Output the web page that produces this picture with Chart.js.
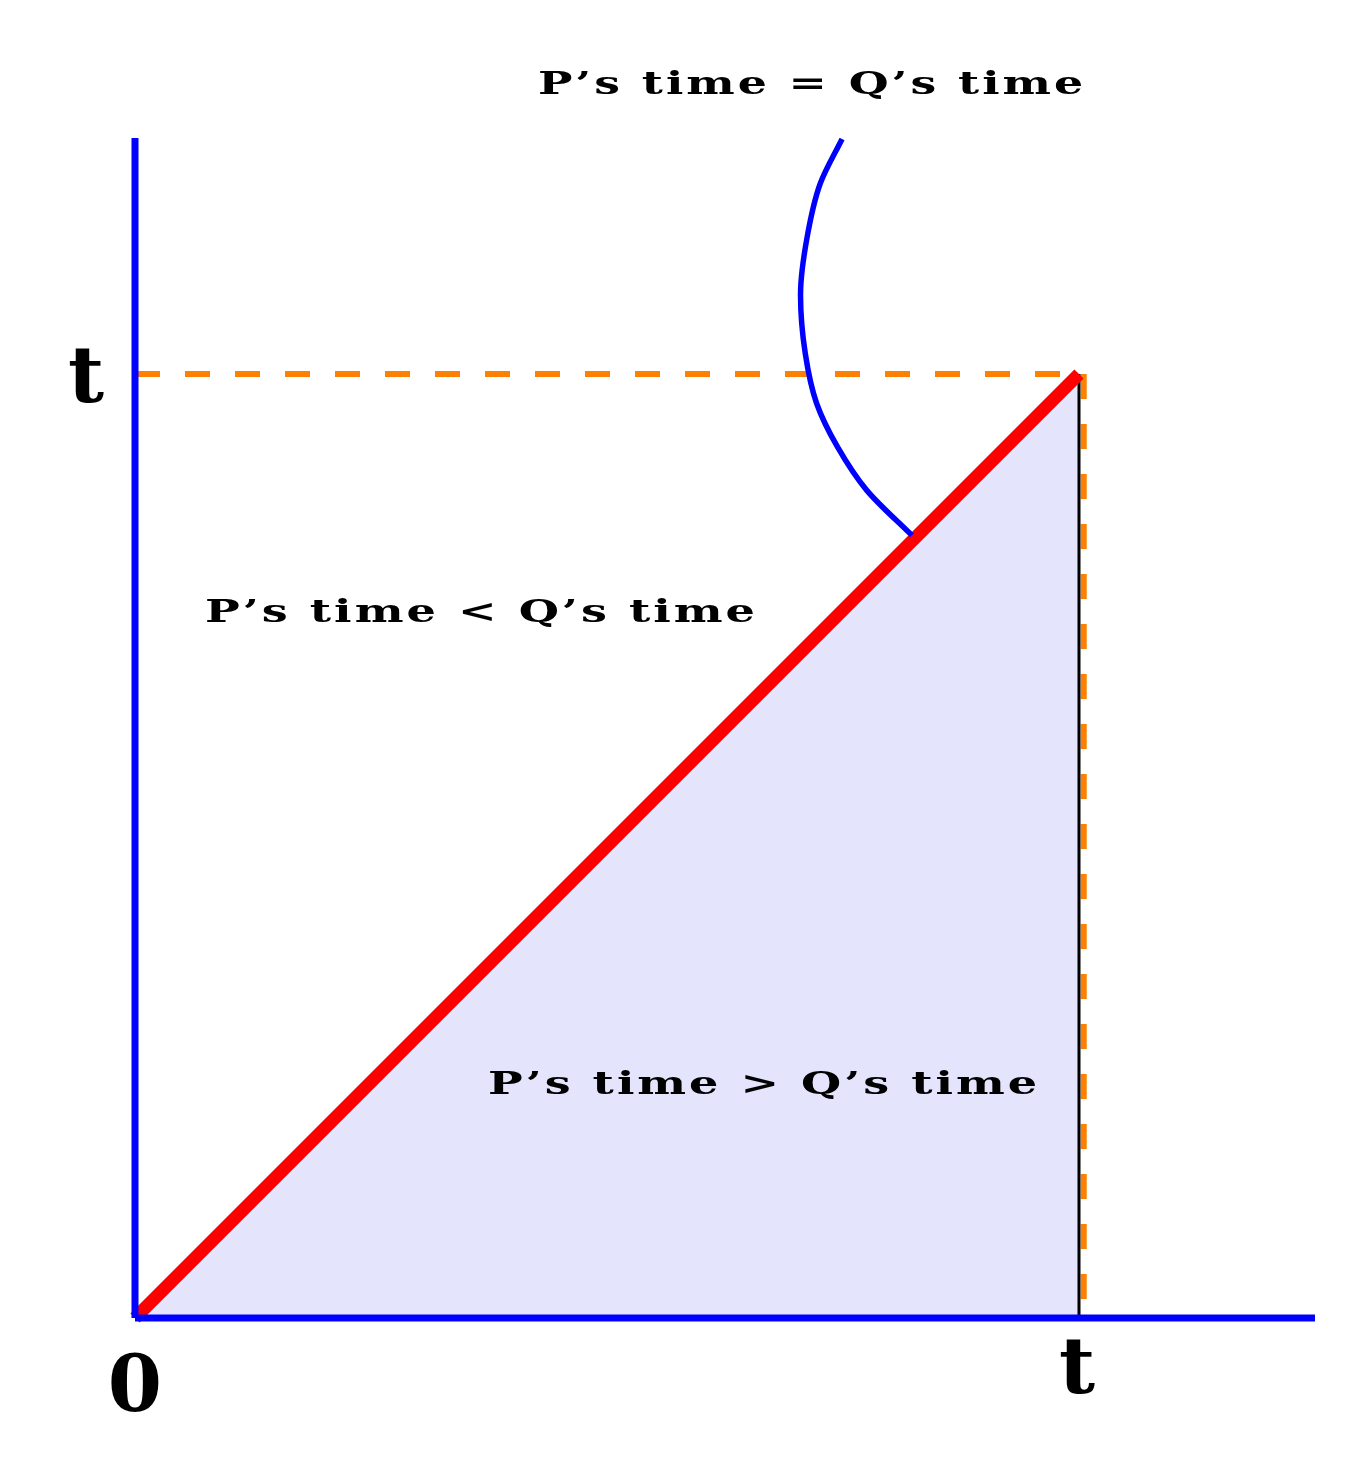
<!DOCTYPE html>
<html>
<head>
<meta charset="utf-8">
<script src="https://cdn.jsdelivr.net/npm/chart.js@4.4.1/dist/chart.umd.min.js"></script>
<style>
  body { margin: 0; background: #fff; }
  canvas { display: block; }
</style>
</head>
<body>
<canvas id="timeChart" width="1361" height="1480"></canvas>
<script>
// values (t = 1)
const axisMax = 1.25;
const diagonal = [[0, 0], [1, 1]];
const shadeTriangle = [[0, 0], [1, 1], [1, 0]];
const orangeTop = [[0, 1], [1, 1]];
const orangeSide = [[1.005, 1], [1.005, 0]];
const blackSide = [[1, 1], [1, 0]];
const yAxisLine = [[0, 0], [0, axisMax]];
const xAxisLine = [[0, 0], [axisMax, 0]];
// the curved pointer from the top label to the diagonal
const pointerCurve = [
    [0.749, 1.249], [0.726, 1.202], [0.712, 1.145], [0.705, 1.084],
    [0.710, 1.022], [0.722, 0.969], [0.744, 0.923], [0.775, 0.877], [0.823, 0.829]
];
const tickLabels = ['0', 't'];
const regionLabels = ["P\u2019s time = Q\u2019s time", "P\u2019s time < Q\u2019s time", "P\u2019s time > Q\u2019s time"];

const pts = arr => arr.map(([x, y]) => ({ x: x, y: y }));

// draw a text stretched to a given width (wide bold serif look)
function wideText(ctx, text, left, baseline, width) {
    ctx.save();
    ctx.letterSpacing = '2px';
    const w = ctx.measureText(text).width - 2;
    const sx = width / w;
    ctx.translate(left, baseline);
    ctx.scale(sx, 1);
    ctx.textAlign = 'left';
    ctx.fillText(text, 0, 0);
    ctx.restore();
}

const labelPlugin = {
    id: 'labels',
    afterDraw(chart) {
        const ctx = chart.ctx;
        const xs = chart.scales.x, ys = chart.scales.y;
        ctx.save();
        ctx.fillStyle = '#000';
        ctx.textBaseline = 'alphabetic';
        // tick labels
        ctx.font = 'bold 78px "DejaVu Serif"';
        ctx.textAlign = 'center';
        ctx.fillText(tickLabels[0], xs.getPixelForValue(0), ys.getPixelForValue(0) + 93);
        ctx.fillText(tickLabels[1], xs.getPixelForValue(1) - 2, ys.getPixelForValue(0) + 75);
        ctx.fillText(tickLabels[1], xs.getPixelForValue(0) - 49, ys.getPixelForValue(1) + 28);
        // region labels
        ctx.font = 'bold 31px "DejaVu Serif"';
        wideText(ctx, regionLabels[0], 538, 94, 545);
        wideText(ctx, regionLabels[1], 205, 622, 550);
        wideText(ctx, regionLabels[2], 488, 1094, 549);
        ctx.restore();
    }
};

function line(data, color, width, order, extra) {
    return Object.assign({
        data: pts(data),
        borderColor: color,
        borderWidth: width,
        pointRadius: 0,
        fill: false,
        tension: 0,
        clip: false,
        order: order
    }, extra || {});
}

document.addEventListener('DOMContentLoaded', () => {
    const ctx = document.getElementById('timeChart').getContext('2d');
    new Chart(ctx, {
        type: 'line',
        data: {
            datasets: [
                // curve follows y, so interpolate along the y axis
                line(pointerCurve, '#0000ff', 5.5, 0, { indexAxis: 'y', cubicInterpolationMode: 'monotone', tension: 0.4 }),
                line(yAxisLine, '#0000ff', 7, 1),
                line(xAxisLine, '#0000ff', 7, 1),
                line(diagonal, '#ff0000', 13, 2),
                line(blackSide, '#000000', 3, 3),
                line(orangeSide, '#ff8000', 6, 4, { borderDash: [25, 25] }),
                line(orangeTop, '#ff8000', 6, 4, { borderDash: [25, 25] }),
                line(shadeTriangle, 'rgba(0,0,0,0)', 0, 5, { fill: 'origin', backgroundColor: 'rgb(228,228,252)' })
            ]
        },
        options: {
            responsive: false,
            animation: false,
            devicePixelRatio: 1,
            layout: { padding: { left: 135, right: 46, top: 138, bottom: 162 } },
            plugins: { legend: { display: false }, tooltip: { enabled: false } },
            scales: {
                x: { type: 'linear', min: 0, max: axisMax, display: false },
                y: { type: 'linear', min: 0, max: axisMax, display: false }
            }
        },
        plugins: [labelPlugin]
    });
});
</script>
</body>
</html>
